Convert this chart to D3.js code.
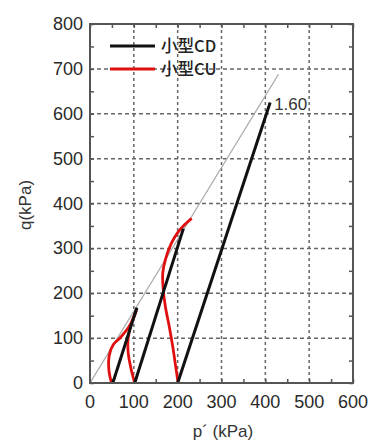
<!DOCTYPE html>
<html>
<head>
<meta charset="utf-8">
<script src="https://cdn.jsdelivr.net/npm/d3@7/dist/d3.min.js"></script>
<style>
  body { margin: 0; background: #fff; }
  svg { display: block; font-family: "Liberation Sans", Arial, sans-serif; }
</style>
</head>
<body>
<div id="chart"></div>
<script>
// tick values
var xTicks = [0, 100, 200, 300, 400, 500, 600];
var yTicks = [0, 100, 200, 300, 400, 500, 600, 700, 800];

// drained (CD) stress paths, [p', q]
var cd50 = [[52, 0], [107, 168]];
var cd100 = [[102, 0], [213, 344]];
var cd200 = [[200, 0], [411, 625]];

// undrained (CU) stress paths, [p', q]
var cu50 = [[49, 0], [43, 30], [44, 62], [53, 85], [70, 102], [88, 124], [100, 146], [106, 162]];
var cu100 = [[102, 0], [94, 30], [87, 68], [87, 100], [94, 132], [107, 166]];
var cu200 = [[201, 0], [195, 40], [189, 80], [181, 125], [172, 170], [167, 210], [166, 245], [172, 275], [185, 310], [200, 335], [215, 352], [232, 367]];

// critical state line q = M p'
var M = 1.60;
var cslP = [0, 430];

var legendNames = ['小型CD', '小型CU'];

var width = 375, height = 444;
var plotL = 90, plotR = 353, plotT = 24, plotB = 383;

var svg = d3.select('#chart')
    .append('svg')
    .attr('width', width)
    .attr('height', height);

var xScale = d3.scaleLinear().domain([0, 600]).range([plotL, plotR]);
var yScale = d3.scaleLinear().domain([0, 800]).range([plotB, plotT]);

// grid lines
svg.append('g')
    .selectAll('line')
    .data(xTicks.slice(1, -1))
    .join('line')
    .attr('x1', d => xScale(d)).attr('x2', d => xScale(d))
    .attr('y1', plotT).attr('y2', plotB)
    .attr('stroke', '#666').attr('stroke-width', 1.5)
    .attr('stroke-dasharray', '3,3');

svg.append('g')
    .selectAll('line')
    .data(yTicks.slice(1, -1))
    .join('line')
    .attr('y1', d => yScale(d)).attr('y2', d => yScale(d))
    .attr('x1', plotL).attr('x2', plotR)
    .attr('stroke', '#666').attr('stroke-width', 1.5)
    .attr('stroke-dasharray', '4,3');

// axes with inward ticks (minor every 50)
var xMinor = d3.range(0, 601, 50);
var yMinor = d3.range(0, 801, 50);

svg.append('g')
    .attr('transform', 'translate(0,' + plotB + ')')
    .call(d3.axisBottom(xScale).tickValues(xMinor).tickSizeInner(-4).tickSizeOuter(0).tickFormat(''))
    .call(g => g.select('.domain').remove());
svg.append('g')
    .attr('transform', 'translate(0,' + plotT + ')')
    .call(d3.axisTop(xScale).tickValues(xMinor).tickSizeInner(-4).tickSizeOuter(0).tickFormat(''))
    .call(g => g.select('.domain').remove());
svg.append('g')
    .attr('transform', 'translate(' + plotL + ',0)')
    .call(d3.axisLeft(yScale).tickValues(yMinor).tickSizeInner(-4).tickSizeOuter(0).tickFormat(''))
    .call(g => g.select('.domain').remove());
svg.append('g')
    .attr('transform', 'translate(' + plotR + ',0)')
    .call(d3.axisRight(yScale).tickValues(yMinor).tickSizeInner(-4).tickSizeOuter(0).tickFormat(''))
    .call(g => g.select('.domain').remove());
svg.selectAll('.tick line').attr('stroke', '#555').attr('stroke-width', 1.5);

// tick labels
svg.append('g')
    .selectAll('text')
    .data(xTicks)
    .join('text')
    .attr('x', d => xScale(d))
    .attr('y', plotB + 25)
    .attr('text-anchor', 'middle')
    .attr('font-size', 18)
    .attr('fill', '#2a2a2a')
    .text(d => d);

svg.append('g')
    .selectAll('text')
    .data(yTicks)
    .join('text')
    .attr('x', plotL - 7)
    .attr('y', d => yScale(d) + 6)
    .attr('text-anchor', 'end')
    .attr('font-size', 18)
    .attr('fill', '#2a2a2a')
    .text(d => d);

// critical state line
var line = d3.line().x(d => xScale(d[0])).y(d => yScale(d[1]));
svg.append('path')
    .datum(cslP.map(p => [p, M * p]))
    .attr('d', line)
    .attr('fill', 'none')
    .attr('stroke', '#aaa')
    .attr('stroke-width', 1.3);

// CU paths
var smooth = d3.line().x(d => xScale(d[0])).y(d => yScale(d[1])).curve(d3.curveCatmullRom);
[cu50, cu100, cu200].forEach(function (path) {
    svg.append('path')
        .datum(path)
        .attr('d', smooth)
        .attr('fill', 'none')
        .attr('stroke', '#e01010')
        .attr('stroke-width', 2.8);
});

// CD paths
[cd50, cd100, cd200].forEach(function (path) {
    svg.append('path')
        .datum(path)
        .attr('d', line)
        .attr('fill', 'none')
        .attr('stroke', '#111')
        .attr('stroke-width', 3);
});

// M label
svg.append('text')
    .attr('x', xScale(cd200[1][0]) + 4)
    .attr('y', yScale(cd200[1][1]) + 7)
    .attr('font-size', 17)
    .attr('fill', '#333')
    .text(M.toFixed(2));

// frame
svg.append('rect')
    .attr('x', plotL).attr('y', plotT)
    .attr('width', plotR - plotL).attr('height', plotB - plotT)
    .attr('fill', 'none')
    .attr('stroke', '#555')
    .attr('stroke-width', 2);

// legend
var legendColors = ['#111', '#e01010'];
legendNames.forEach(function (name, i) {
    var ly = 46 + i * 23;
    svg.append('line')
        .attr('x1', 110).attr('x2', 155)
        .attr('y1', ly).attr('y2', ly)
        .attr('stroke', legendColors[i])
        .attr('stroke-width', 3);
    svg.append('text')
        .attr('x', 161)
        .attr('y', ly + 6)
        .attr('font-size', 16.5)
        .attr('font-weight', 500)
        .attr('font-family', '"Noto Sans CJK JP", sans-serif')
        .attr('fill', '#222')
        .text(name);
});

// axis titles
svg.append('text')
    .attr('x', 223)
    .attr('y', 437)
    .attr('text-anchor', 'middle')
    .attr('font-size', 17)
    .attr('fill', '#333')
    .text('p´ (kPa)');

svg.append('text')
    .attr('transform', 'rotate(-90)')
    .attr('x', -205)
    .attr('y', 31)
    .attr('text-anchor', 'middle')
    .attr('font-size', 17)
    .attr('fill', '#333')
    .text('q(kPa)');
</script>
</body>
</html>
